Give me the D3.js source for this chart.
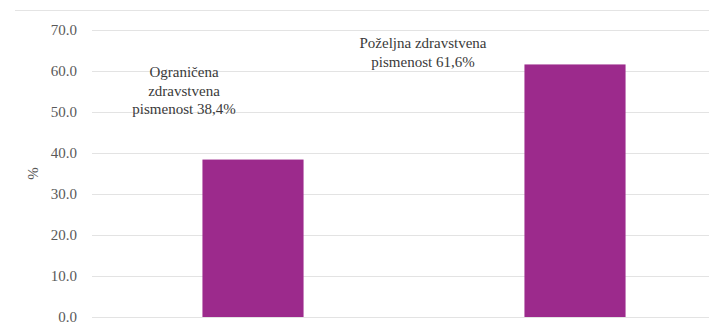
<!DOCTYPE html>
<html lang="hr">
<head>
<meta charset="UTF-8">
<title>Zdravstvena pismenost</title>
<style>
    body { margin: 0; background: #fff; }
</style>
</head>
<body>
<svg id="chart" width="709" height="326"></svg>
<script src="https://d3js.org/d3.v7.min.js"></script>
<script>
// podaci
const categories = ["Ograničena zdravstvena pismenost", "Poželjna zdravstvena pismenost"];
const values = [38.4, 61.6];
const labelLines = [
    ["Ograničena", "zdravstvena", "pismenost 38,4%"],
    ["Poželjna zdravstvena", "pismenost 61,6%"]
];
const yTicks = [0, 10, 20, 30, 40, 50, 60, 70];

const width = 709, height = 326;
const margin = { top: 30, right: -27, bottom: 9, left: 92 };
const serif = "'Liberation Serif', 'Times New Roman', serif";

const svg = d3.select("#chart");

const x = d3.scaleBand()
    .domain(categories)
    .range([margin.left, width - margin.right])
    .paddingInner(0.686)
    .paddingOuter(0.343);

const y = d3.scaleLinear()
    .domain([0, 70])
    .range([height - margin.bottom, margin.top]);

// gornja linija okvira
svg.append("line")
    .attr("x1", 15).attr("x2", width)
    .attr("y1", 10.5).attr("y2", 10.5)
    .attr("stroke", "#e4e4e4").attr("stroke-width", 1.2);

// mreža
svg.append("g")
    .selectAll("line")
    .data(yTicks)
    .join("line")
    .attr("x1", margin.left).attr("x2", width)
    .attr("y1", d => Math.round(y(d)) + 0.5)
    .attr("y2", d => Math.round(y(d)) + 0.5)
    .attr("stroke", "#e3e3e3")
    .attr("stroke-width", 1.2);

// os y
const yAxis = d3.axisLeft(y)
    .tickValues(yTicks)
    .tickFormat(d3.format(".1f"))
    .tickSize(0)
    .tickPadding(15);

svg.append("g")
    .attr("transform", `translate(${margin.left},0)`)
    .call(yAxis)
    .call(g => g.select(".domain").remove())
    .call(g => g.selectAll("text")
        .style("font-family", serif)
        .style("font-size", "15px")
        .attr("fill", "#595959"));

// naslov osi
svg.append("text")
    .attr("transform", `translate(38,${(y(0) + y(70)) / 2}) rotate(-90)`)
    .attr("text-anchor", "middle")
    .attr("fill", "#595959")
    .style("font-family", serif)
    .style("font-size", "15px")
    .text("%");

// stupci
svg.append("g")
    .selectAll("rect")
    .data(values)
    .join("rect")
    .attr("x", (d, i) => x(categories[i]))
    .attr("width", x.bandwidth())
    .attr("y", d => y(d))
    .attr("height", d => y(0) - y(d))
    .attr("fill", "#9c2a8c");

// oznake podataka
const labelOffset = [-69, -152];
const labelTop = [77, 48];
svg.append("g")
    .selectAll("text")
    .data(labelLines)
    .join("text")
    .attr("fill", "#3a3a3a")
    .style("font-family", serif)
    .style("font-size", "15px")
    .attr("text-anchor", "middle")
    .attr("x", (d, i) => x(categories[i]) + x.bandwidth() / 2 + labelOffset[i])
    .attr("y", (d, i) => labelTop[i])
    .each(function (lines) {
        const t = d3.select(this);
        const x0 = t.attr("x");
        lines.forEach((line, k) => {
            t.append("tspan")
                .attr("x", x0)
                .attr("dy", k === 0 ? 0 : 18.5)
                .text(line);
        });
    });
</script>
</body>
</html>
